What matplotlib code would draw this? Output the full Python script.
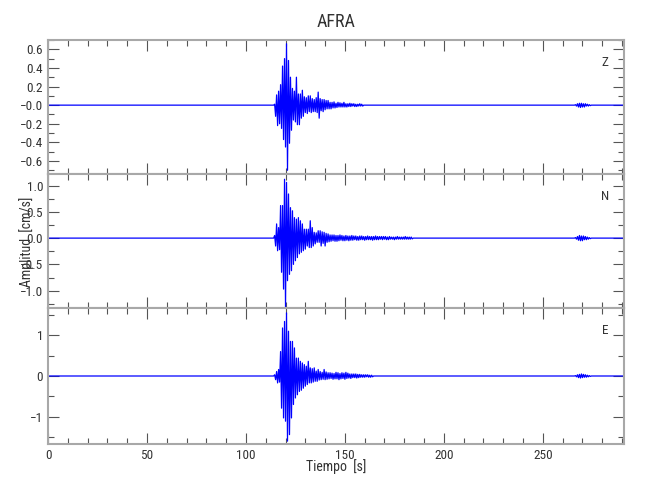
import numpy as np
import matplotlib
matplotlib.use('Agg')
import matplotlib.pyplot as plt
from matplotlib import font_manager
from matplotlib.ticker import MultipleLocator, FixedLocator

# sample layout of the traces (s)
T0 = 114.5
DT = 0.5
TAIL_T0 = 266.5
T_END = 291.0

# peak amplitudes, one per half second (cm/s)
z_burst = [
    0.01, -0.12, 0.11, -0.22, 0.15, -0.20, 0.22, -0.25, 0.42, -0.37,
    0.50, -0.45, 0.66, -0.70, 0.48, -0.41, 0.30, -0.27, 0.18, -0.16,
    0.15, -0.18, 0.30, -0.21, 0.12, -0.21, 0.12, -0.14, 0.16, -0.12,
    0.09, -0.08, 0.08, -0.09, 0.10, -0.07, 0.10, -0.08, 0.07, -0.07,
    0.06, -0.07, 0.08, -0.08, 0.14, -0.14, 0.07, -0.06, 0.06, -0.07,
    0.06, -0.05, 0.05, -0.04, 0.05, -0.04, 0.03, -0.04, 0.03, -0.03,
    0.035, -0.03, 0.02, -0.025, 0.03, -0.02, 0.025, -0.02, 0.02, -0.02,
    0.03, -0.02, 0.015, -0.02, 0.015, -0.015, 0.02, -0.015, 0.015, -0.01,
    0.015, -0.015, 0.01, -0.015, 0.01, -0.01, 0.015, -0.01, 0.01, -0.01,
]
n_burst = [
    0.05, -0.15, 0.27, -0.24, 0.20, -0.22, 0.62, -0.65, 0.62, -0.97,
    1.12, -1.32, 1.06, -0.81, 0.84, -0.69, 0.58, -0.62, 0.52, -0.50,
    0.39, -0.43, 0.36, -0.37, 0.39, -0.30, 0.33, -0.27, 0.27, -0.24,
    0.17, -0.21, 0.17, -0.15, 0.17, -0.18, 0.33, -0.18, 0.20, -0.15,
    0.11, -0.11, 0.10, -0.08, 0.14, -0.08, 0.14, -0.15, 0.12, -0.10,
    0.11, -0.15, 0.09, -0.08, 0.08, -0.07, 0.06, -0.06, 0.06, -0.05,
    0.06, -0.06, 0.05, -0.06, 0.05, -0.05, 0.06, -0.04, 0.05, -0.05,
    0.04, -0.05, 0.05, -0.04, 0.04, -0.05, 0.04, -0.04, 0.05, -0.04,
    0.04, -0.03, 0.04, -0.04, 0.03, -0.04, 0.04, -0.03, 0.04, -0.03,
    0.03, -0.04, 0.03, -0.03, 0.04, -0.03, 0.03, -0.03, 0.03, -0.04,
    0.03, -0.03, 0.04, -0.03, 0.03, -0.03, 0.03, -0.02, 0.03, -0.03,
    0.03, -0.02, 0.03, -0.03, 0.02, -0.03, 0.03, -0.02, 0.02, -0.02,
    0.02, -0.03, 0.02, -0.02, 0.03, -0.02, 0.02, -0.02, 0.02, -0.02,
    0.02, -0.02, 0.03, -0.02, 0.02, -0.02, 0.02, -0.02, 0.02, -0.015,
]
e_burst = [
    0.03, -0.09, 0.11, -0.17, 0.16, -0.15, 0.60, -0.79, 1.18, -1.03,
    1.34, -1.11, 1.55, -1.60, 1.10, -1.44, 0.85, -1.03, 0.85, -0.70,
    0.69, -0.54, 0.44, -0.46, 0.44, -0.38, 0.36, -0.35, 0.32, -0.30,
    0.28, -0.25, 0.24, -0.21, 0.36, -0.17, 0.20, -0.17, 0.18, -0.15,
    0.20, -0.13, 0.12, -0.13, 0.16, -0.10, 0.11, -0.09, 0.09, -0.08,
    0.16, -0.09, 0.10, -0.08, 0.08, -0.07, 0.08, -0.06, 0.07, -0.08,
    0.06, -0.07, 0.09, -0.07, 0.08, -0.09, 0.06, -0.07, 0.08, -0.06,
    0.07, -0.08, 0.09, -0.06, 0.07, -0.05, 0.05, -0.06, 0.05, -0.04,
    0.05, -0.04, 0.05, -0.05, 0.04, -0.04, 0.04, -0.03, 0.03, -0.03,
    0.03, -0.03, 0.03, -0.02, 0.03, -0.03, 0.02, -0.03, 0.02, -0.02,
]

# small arrival near 270 s
z_tail = [0.005, -0.01, 0.015, -0.02, 0.02, -0.025, 0.02, -0.02,
          0.015, -0.02, 0.015, -0.01, 0.01, -0.01, 0.005, -0.005]
n_tail = [0.01, -0.02, 0.03, -0.04, 0.05, -0.05, 0.04, -0.05,
          0.04, -0.03, 0.03, -0.03, 0.02, -0.02, 0.01, -0.01]
e_tail = [0.01, -0.02, 0.03, -0.04, 0.04, -0.05, 0.05, -0.04,
          0.04, -0.03, 0.03, -0.03, 0.02, -0.02, 0.01, -0.01]

components = ['Z', 'N', 'E']
y_limits = [(-0.74, 0.70), (-1.33, 1.22), (-1.67, 1.67)]
y_ticks = [[-0.6, -0.4, -0.2, 0.0, 0.2, 0.4, 0.6],
           [-1.0, -0.5, 0.0, 0.5, 1.0],
           [-1, 0, 1]]
y_ticklabels = [['\u22120.6', '\u22120.4', '\u22120.2', '\u22120.0', '0.2', '0.4', '0.6'],
                ['\u22121.0', '\u22120.5', '0.0', '0.5', '1.0'],
                ['\u22121', '0', '1']]
y_minor = [0.1, 0.25, 0.5]
x_ticks = [0, 50, 100, 150, 200, 250]

TEXT = '#333333'
SPINE = '#a8a8a8'


def pick_font():
    names = {f.name for f in font_manager.fontManager.ttflist}
    for name in ['Liberation Sans Narrow', 'Roboto Condensed']:
        if name in names:
            return name
    return 'DejaVu Sans'


def segment(t_start, values):
    # pad each recorded stretch with zeros on both sides so the baseline stays flat
    t = t_start + DT * np.arange(-1, len(values) + 1)
    u = np.concatenate([[0.0], values, [0.0]])
    return t, u


def trace(burst, tail):
    tb, ub = segment(T0, burst)
    tt, ut = segment(TAIL_T0, tail)
    t = np.concatenate([[0.0], tb, tt, [T_END]])
    u = np.concatenate([[0.0], ub, ut, [0.0]])
    return t, u


def plot_station():
    plt.rcParams['font.family'] = [pick_font(), 'DejaVu Sans']
    fig = plt.figure(figsize=(6.5, 5.0), dpi=100)

    left, width = 48 / 650, 576 / 650
    tops = [40, 174, 308]
    heights = [134, 134, 136]
    data = [(z_burst, z_tail), (n_burst, n_tail), (e_burst, e_tail)]

    for i in range(3):
        bottom = 1 - (tops[i] + heights[i]) / 500
        ax = fig.add_axes([left, bottom, width, heights[i] / 500])
        t, u = trace(*data[i])
        ax.plot(t, u, color='#0000ff', lw=0.9)
        ax.set_xlim(0, T_END)
        ax.set_ylim(*y_limits[i])

        ax.xaxis.set_major_locator(FixedLocator(x_ticks))
        ax.xaxis.set_minor_locator(MultipleLocator(10))
        ax.yaxis.set_major_locator(FixedLocator(y_ticks[i]))
        ax.set_yticklabels(y_ticklabels[i])
        ax.yaxis.set_minor_locator(MultipleLocator(y_minor[i]))
        ax.tick_params(which='both', direction='in', top=True, right=True,
                       color='#555555', labelcolor=TEXT, labelsize=9.5, width=0.8)
        ax.tick_params(which='major', length=8)
        ax.tick_params(which='minor', length=4.5)
        for sp in ax.spines.values():
            sp.set_color(SPINE)
            sp.set_linewidth(1.5)
        if i < 2:
            ax.tick_params(labelbottom=False)
        ax.text(0.967, 0.835, components[i], transform=ax.transAxes,
                ha='center', va='center', color=TEXT, fontsize=9.5)

    fig.text(336 / 650, 1 - 22 / 500, 'AFRA', ha='center', va='center',
             color=TEXT, fontsize=13)
    fig.text(27 / 650, 1 - 242 / 500, 'Amplitud  [cm/s]', rotation=90,
             ha='center', va='center', color=TEXT, fontsize=10)
    fig.text(336 / 650, 1 - 467 / 500, 'Tiempo  [s]', ha='center', va='center',
             color=TEXT, fontsize=10)

    fig.savefig('out.png', dpi=100, facecolor='white')


if __name__ == '__main__':
    plot_station()
